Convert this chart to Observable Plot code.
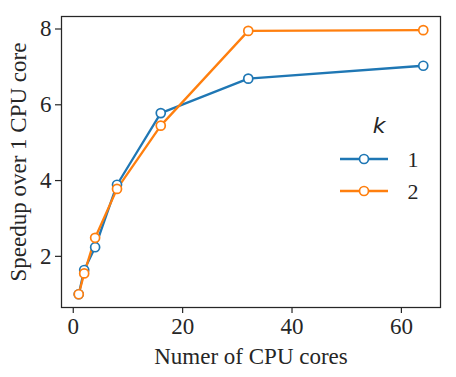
<!DOCTYPE html>
<html><head><meta charset="utf-8">
<script src="https://cdn.jsdelivr.net/npm/d3@7"></script>
<script src="https://cdn.jsdelivr.net/npm/@observablehq/plot@0.6"></script>
<style>
body{margin:0;background:#fff;}
#wrap{position:relative;width:456px;height:377px;}
#legend{position:absolute;left:0;top:0;}
</style>
</head><body><div id="wrap"></div>
<script>
const cores = [1, 2, 4, 8, 16, 32, 64];
const speedupK1 = [1.0, 1.64, 2.24, 3.89, 5.78, 6.69, 7.03];
const speedupK2 = [1.0, 1.55, 2.49, 3.78, 5.45, 7.95, 7.97];
const seriesNames = ["1", "2"];
const colors = ["#1f77b4", "#ff7f0e"];
const xTicks = [0, 20, 40, 60];
const yTicks = [2, 4, 6, 8];

const data = [];
[speedupK1, speedupK2].forEach((arr, i) => arr.forEach((v, j) => data.push({k: seriesNames[i], x: cores[j], y: v})));

const ink = "#262626";
const plot = Plot.plot({
  width: 456, height: 377,
  marginLeft: 61, marginRight: 16, marginTop: 16, marginBottom: 70,
  style: {fontFamily: "Liberation Serif", color: ink, background: "#fff"},
  x: {domain: [-2.15, 67.15]},
  y: {domain: [0.65, 8.33]},
  color: {domain: seriesNames, range: colors},
  marks: [
    Plot.axisX({ticks: xTicks, tickSize: 6, tickPadding: 4, fontSize: 23, stroke: ink, strokeWidth: 1.2,
      label: "Numer of CPU cores", labelAnchor: "center", labelArrow: "none", labelOffset: 56}),
    Plot.axisY({ticks: yTicks, tickSize: 6, tickPadding: 4, fontSize: 23, stroke: ink, strokeWidth: 1.2,
      label: "Speedup over 1 CPU core", labelAnchor: "center", labelArrow: "none", labelOffset: 52}),
    Plot.frame({stroke: ink, strokeWidth: 1.25}),
    Plot.line(data, {x: "x", y: "y", z: "k", stroke: "k", strokeWidth: 2.3}),
    Plot.dot(data, {x: "x", y: "y", stroke: "k", fill: "white", r: 4.5, strokeWidth: 1.7})
  ]
});
const wrap = document.getElementById("wrap");
wrap.appendChild(plot);

// legend overlay
const leg = d3.select(wrap).append("svg").attr("id", "legend").attr("width", 456).attr("height", 377);
leg.append("text").attr("x", 379).attr("y", 133).attr("text-anchor", "middle")
  .attr("font-family", "DejaVu Sans").attr("font-style", "italic").attr("font-size", 22).attr("fill", ink).text("k");
seriesNames.forEach((name, i) => {
  const yy = 159 + i * 32;
  leg.append("line").attr("x1", 340).attr("x2", 388).attr("y1", yy).attr("y2", yy)
    .attr("stroke", colors[i]).attr("stroke-width", 2.3);
  leg.append("circle").attr("cx", 364).attr("cy", yy).attr("r", 4.5).attr("fill", "white")
    .attr("stroke", colors[i]).attr("stroke-width", 1.7);
  leg.append("text").attr("x", 413).attr("y", yy + 8).attr("text-anchor", "middle")
    .attr("font-family", "Liberation Serif").attr("font-size", 22).attr("fill", ink).text(name);
});
</script></body></html>
